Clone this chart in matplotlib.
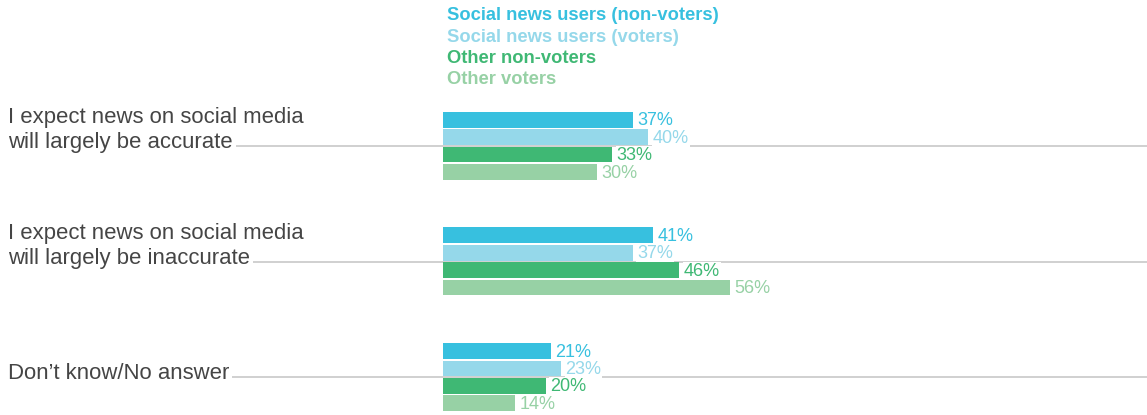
import matplotlib
matplotlib.use("Agg")
import matplotlib.pyplot as plt

categories = [
    "I expect news on social media\nwill largely be accurate",
    "I expect news on social media\nwill largely be inaccurate",
    "Don\u2019t know/No answer",
]
series = [
    "Social news users (non-voters)",
    "Social news users (voters)",
    "Other non-voters",
    "Other voters",
]
colors = ["#37c0df", "#95d8ea", "#3fb874", "#97d1a5"]
values = [
    [37, 41, 21],
    [40, 37, 23],
    [33, 46, 20],
    [30, 56, 14],
]

plt.rcParams["font.family"] = ["Liberation Sans", "DejaVu Sans"]

W, H = 1147, 415
fig = plt.figure(figsize=(W / 100, H / 100), dpi=100)
ax = fig.add_axes([0, 0, 1, 1])
ax.axis("off")

px = 5.13          # pixels per percentage point
x0 = 443           # pixel where bars start
ax.set_xlim(-x0 / px, (W - x0) / px)
ax.set_ylim(H, 0)  # y in pixels from the top

first_bar = 119.8
bar_step = 17.4
group_step = 115.6
bar_h = 15.8

# legend as coloured text
for i, (name, c) in enumerate(zip(series, colors)):
    ax.text((447 - x0) / px, 20.5 + i * 21.3, name, color=c, fontsize=13.2,
            fontweight="bold", va="baseline", ha="left")

fig.canvas.draw()
renderer = fig.canvas.get_renderer()
inv = ax.transData.inverted()

for g, cat in enumerate(categories):
    top = first_bar + g * group_step
    line_y = top + 1.5 * bar_step
    lines = cat.split("\n")
    last = None
    for k, ln in enumerate(lines):
        yb = line_y + 2 - (len(lines) - 1 - k) * 24.5
        last = ax.text((8 - x0) / px, yb, ln, fontsize=15.9, color="#454545",
                       va="baseline", ha="left")
    bb = last.get_window_extent(renderer)
    x_end = inv.transform((bb.x1 + 3, 0))[0]
    ax.hlines(line_y, x_end, (W - x0) / px, color="#c4c4c4", lw=1.1, zorder=0)

    for s in range(len(series)):
        y = top + s * bar_step
        v = values[s][g]
        ax.barh(y, v, height=bar_h, left=0, color=colors[s], zorder=2)
        # white box hides the rule behind the label, bars stay on top of it
        ax.text(v + 4.5 / px, y + 1, f"{v}%", color=colors[s], fontsize=13,
                va="center", ha="left", zorder=1.5,
                bbox=dict(fc="white", ec="none", pad=0.6))

fig.savefig("out.png", dpi=100)
